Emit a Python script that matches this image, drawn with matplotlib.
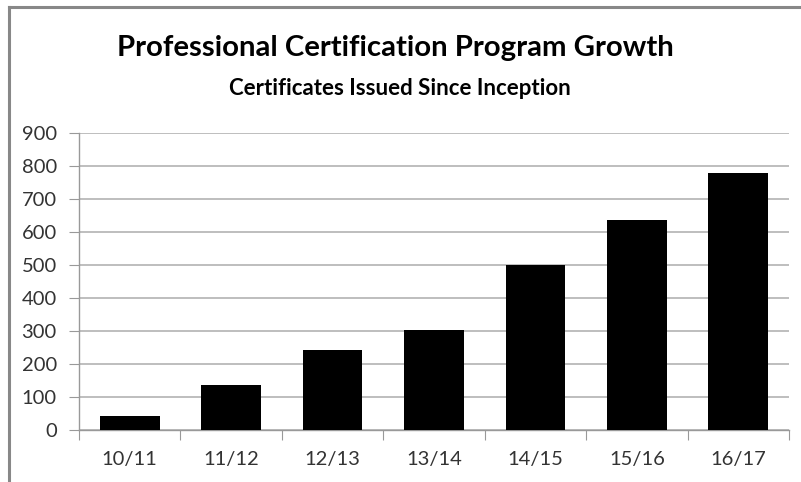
import matplotlib
matplotlib.use("Agg")
import numpy as np
import matplotlib.pyplot as plt
from matplotlib.lines import Line2D

years = ["10/11", "11/12", "12/13", "13/14", "14/15", "15/16", "16/17"]
certificates = [43, 136, 243, 304, 501, 636, 778]
yticks = np.arange(0, 901, 100)

plt.rcParams['font.family'] = ['Lato', 'DejaVu Sans']

fig = plt.figure(figsize=(8.01, 4.82), dpi=100)
ax = fig.add_axes([79 / 801, 52 / 482, 710 / 801, 297 / 482])

x = np.arange(len(years))
ax.bar(x, certificates, width=0.59, color="black", zorder=3)

ax.set_xlim(-0.5, len(years) - 0.5)
ax.set_ylim(0, 900)
ax.set_yticks(yticks)
ax.grid(axis="y", color="#b3b3b3", linewidth=1.2, zorder=0)

# ticks at category boundaries, labels at centres
ax.set_xticks(np.arange(-0.5, len(years), 1.0))
ax.set_xticklabels([])
ax.set_xticks(x, minor=True)
ax.set_xticklabels(years, minor=True)
ax.tick_params(axis="x", which="major", length=7, color="#999999", direction="out")
ax.tick_params(axis="x", which="minor", length=0, pad=15, labelsize=14.5, labelcolor="#333333")
ax.tick_params(axis="y", length=7, color="#999999", pad=9, labelsize=14.5, labelcolor="#333333")

for s in ["top", "right"]:
    ax.spines[s].set_visible(False)
for s in ["left", "bottom"]:
    ax.spines[s].set_color("#999999")
    ax.spines[s].set_linewidth(1.0)

fig.text(0.493, 0.90, "Professional Certification Program Growth", ha="center", va="center",
         fontsize=21.2, fontweight="bold", color="black")
fig.text(0.499, 0.817, "Certificates Issued Since Inception", ha="center", va="center",
         fontsize=16, fontweight="bold", color="black")

# chart frame (left and top edges visible)
fig.add_artist(Line2D([9 / 801, 9 / 801], [0, 1 - 7 / 482], color="#888888", linewidth=2.2))
fig.add_artist(Line2D([9 / 801, 1], [1 - 7 / 482, 1 - 7 / 482], color="#888888", linewidth=2.2))

fig.savefig("out.png", dpi=100)
